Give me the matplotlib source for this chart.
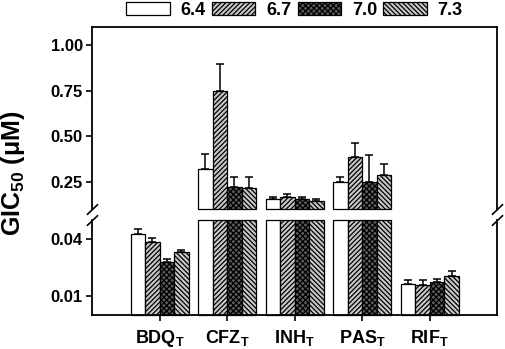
import numpy as np
import matplotlib
matplotlib.use('Agg')
import matplotlib.pyplot as plt

plt.rcParams['font.family'] = 'Liberation Sans'
plt.rcParams['font.weight'] = 'bold'
plt.rcParams['mathtext.fontset'] = 'custom'
plt.rcParams['mathtext.rm'] = 'Liberation Sans:bold'
plt.rcParams['mathtext.default'] = 'rm'
plt.rcParams['hatch.linewidth'] = 0.9

# data
drugs = ['BDQ$_{T}$', 'CFZ$_{T}$', 'INH$_{T}$', 'PAS$_{T}$', 'RIF$_{T}$']
ph_labels = ['6.4', '6.7', '7.0', '7.3']

gic_64 = [0.043, 0.32, 0.156, 0.246, 0.0165]
gic_67 = [0.0388, 0.75, 0.164, 0.387, 0.016]
gic_70 = [0.0283, 0.219, 0.153, 0.25, 0.0172]
gic_73 = [0.0332, 0.213, 0.142, 0.288, 0.0207]

err_64 = [0.0023, 0.084, 0.011, 0.030, 0.0018]
err_67 = [0.0017, 0.147, 0.016, 0.077, 0.0023]
err_70 = [0.0015, 0.055, 0.011, 0.148, 0.0016]
err_73 = [0.0010, 0.061, 0.014, 0.059, 0.0026]

series = [gic_64, gic_67, gic_70, gic_73]
errors = [err_64, err_67, err_70, err_73]
faces = ['white', '#c8c8c8', '#5a5a5a', '#c8c8c8']
hatches = ['', '///////', 'xxxxxx', '\\\\\\\\\\\\\\']

# axis ranges of the two panels
top_lim = (0.1, 1.1)
bot_lim = (0, 0.05)

fig = plt.figure(figsize=(5.05, 3.49), dpi=100)
ax_top = fig.add_axes([0.1822, 0.4011, 0.8026, 0.5207])
ax_bot = fig.add_axes([0.1822, 0.0974, 0.8026, 0.2708])

x = np.arange(1, len(drugs) + 1)
width = 0.2145

for i, (vals, errs) in enumerate(zip(series, errors)):
    vals = np.array(vals)
    pos = x + (i - 1.5) * width
    yerr = [np.zeros(len(errs)), errs]
    # upper panel: only bars that reach above the break
    h_top = np.where(vals > top_lim[0], vals - top_lim[0], np.nan)
    ax_top.bar(pos, h_top, width, bottom=top_lim[0], color=faces[i],
               edgecolor='black', hatch=hatches[i], linewidth=0.9,
               label=ph_labels[i], clip_on=False)
    # lower panel: bars cut at the top of the panel
    ax_bot.bar(pos, np.minimum(vals, bot_lim[1]), width, color=faces[i],
               edgecolor='black', hatch=hatches[i], linewidth=0.9,
               clip_on=False)
    for ax in (ax_top, ax_bot):
        ax.errorbar(pos, vals, yerr=yerr, fmt='none', ecolor='black',
                    elinewidth=1.1, capsize=2.6, capthick=1.1)

for ax in (ax_top, ax_bot):
    ax.set_xlim(0, 6)
    for s in ax.spines.values():
        s.set_linewidth(1.3)
    ax.tick_params(axis='y', direction='out', length=4.5, width=1.2, pad=2,
                   labelsize=12)

ax_top.set_ylim(*top_lim)
ax_top.set_yticks([0.25, 0.50, 0.75, 1.00])
ax_top.set_yticklabels(['0.25', '0.50', '0.75', '1.00'])
ax_top.spines['bottom'].set_visible(False)
ax_top.tick_params(axis='x', bottom=False, labelbottom=False)

ax_bot.set_ylim(*bot_lim)
ax_bot.set_yticks([0.01, 0.04])
ax_bot.set_yticklabels(['0.01', '0.04'])
ax_bot.spines['top'].set_visible(False)
ax_bot.set_xticks(x)
ax_bot.set_xticklabels(drugs)
ax_bot.tick_params(axis='x', direction='out', length=4, width=1.2, pad=5,
                   labelsize=13)

# break marks on both sides
mk = dict(marker=[(-1, -0.95), (1, 0.95)], markersize=8, linestyle='none',
          color='k', mec='k', mew=1.2, clip_on=False)
ax_top.plot([0, 1], [0, 0], transform=ax_top.transAxes, **mk)
ax_bot.plot([0, 1], [1, 1], transform=ax_bot.transAxes, **mk)

fig.text(0.026, 0.504, 'GIC$_{50}$ (\u03bcM)', rotation=90, ha='center',
         va='center', fontsize=18)

handles, labels = ax_top.get_legend_handles_labels()
fig.legend(handles, labels, loc='center', bbox_to_anchor=(0.5834, 0.971),
           ncol=4, frameon=False, fontsize=13, handlelength=2.4,
           handleheight=0.75, handletextpad=0.6, columnspacing=0.35,
           borderpad=0)

fig.savefig('out.png', dpi=100)
